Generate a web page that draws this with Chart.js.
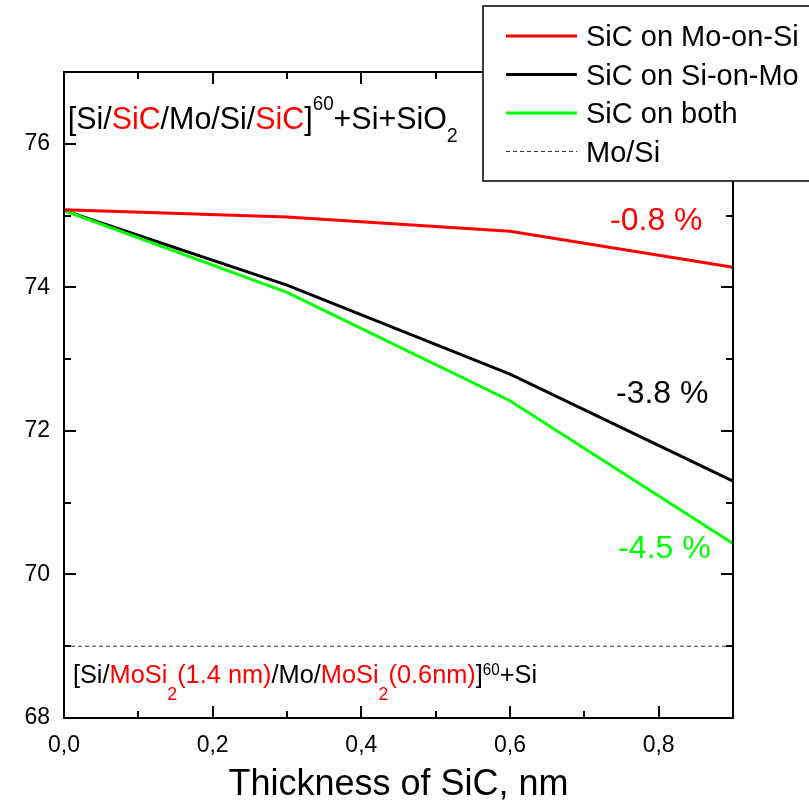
<!DOCTYPE html>
<html>
<head>
<meta charset="utf-8">
<script src="https://cdn.jsdelivr.net/npm/chart.js@4.4.1/dist/chart.umd.min.js"></script>
<style>
  html, body { margin: 0; padding: 0; background: #fff; }
  #wrap { width: 809px; height: 809px; }
</style>
</head>
<body>
<div id="wrap"><canvas id="chart" width="809" height="809"></canvas></div>
<script>
// --- data ---
const thickness = [0, 0.3, 0.6, 0.9];            // SiC thickness, nm
const sicOnMoOnSi = [75.08, 74.98, 74.78, 74.28]; // red
const sicOnSiOnMo = [75.07, 74.03, 72.79, 71.30]; // black
const sicOnBoth = [75.07, 73.93, 72.42, 70.43];   // green
const moSiRef = 69.0;                             // dashed reference
const seriesLabels = ['SiC on Mo-on-Si', 'SiC on Si-on-Mo', 'SiC on both', 'Mo/Si'];
const seriesColors = ['#ff0000', '#000000', '#00ff00', '#333333'];
const xTickLabels = ['0,0', '0,2', '0,4', '0,6', '0,8'];
const yTickLabels = ['68', '70', '72', '74', '76'];
const changeLabels = ['-0.8 %', '-3.8 %', '-4.5 %'];

const FONT = '"Liberation Sans", Arial, sans-serif';

function pts(xs, ys) {
    return xs.map((x, i) => ({ x: x, y: ys[i] }));
}

// draws text made of parts (colour / super / subscript) left to right
function drawRich(ctx, parts, x, y, size, sx) {
    ctx.save();
    ctx.translate(x, y);
    ctx.scale(sx || 1, 1);
    ctx.textAlign = 'left';
    ctx.textBaseline = 'alphabetic';
    let cx = 0;
    parts.forEach(p => {
        const s = size * (p.s || 1);
        ctx.font = s + 'px ' + FONT;
        ctx.fillStyle = p.c || '#000';
        ctx.fillText(p.t, cx, size * (p.dy || 0));
        cx += ctx.measureText(p.t).width;
    });
    ctx.restore();
}

// frame, inward ticks, legend and text notes
const decorPlugin = {
    id: 'decor',
    afterDraw(chart) {
        const ctx = chart.ctx;
        const a = chart.chartArea;
        const xs = chart.scales.x, ys = chart.scales.y;

        ctx.save();
        ctx.strokeStyle = '#000';
        ctx.lineWidth = 2;
        ctx.strokeRect(a.left, a.top, a.right - a.left, a.bottom - a.top);

        // x ticks (bottom and top, inward)
        xs.ticks.forEach(t => {
            const px = Math.round(xs.getPixelForValue(t.value));
            const major = Math.round(t.value * 10) % 2 === 0;
            const len = major ? 12 : 7;
            ctx.beginPath();
            ctx.moveTo(px, a.bottom); ctx.lineTo(px, a.bottom - len);
            ctx.moveTo(px, a.top); ctx.lineTo(px, a.top + len);
            ctx.stroke();
        });
        // y ticks (left and right, inward)
        ys.ticks.forEach(t => {
            const py = Math.round(ys.getPixelForValue(t.value));
            const major = Math.round(t.value) % 2 === 0;
            const len = major ? 12 : 7;
            ctx.beginPath();
            ctx.moveTo(a.left, py); ctx.lineTo(a.left + len, py);
            ctx.moveTo(a.right, py); ctx.lineTo(a.right - len, py);
            ctx.stroke();
        });

        // axis title
        ctx.fillStyle = '#000';
        ctx.font = '36px ' + FONT;
        ctx.textAlign = 'center';
        ctx.textBaseline = 'alphabetic';
        ctx.fillText('Thickness of SiC, nm', (a.left + a.right) / 2, 795);

        // structure notes
        const red = seriesColors[0];
        drawRich(ctx, [
            { t: '[Si/' }, { t: 'SiC', c: red }, { t: '/Mo/Si/' }, { t: 'SiC', c: red }, { t: ']' },
            { t: '60', s: 0.62, dy: -0.6 }, { t: '+Si+SiO' }, { t: '2', s: 0.65, dy: 0.4 }
        ], xs.getPixelForValue(0.005), ys.getPixelForValue(76.21), 32, 0.95);

        drawRich(ctx, [
            { t: '[Si/' }, { t: 'MoSi', c: red }, { t: '2', c: red, s: 0.7, dy: 0.65 },
            { t: '(1.4 nm)', c: red }, { t: '/Mo/' }, { t: 'MoSi', c: red },
            { t: '2', c: red, s: 0.7, dy: 0.65 }, { t: '(0.6nm)', c: red }, { t: ']' },
            { t: '60', s: 0.6, dy: -0.3 }, { t: '+Si' }
        ], xs.getPixelForValue(0.012), ys.getPixelForValue(68.49), 26, 0.975);

        // percentage changes at 0.9 nm
        const notes = [
            { y: 74.80, x: 0.859 },
            { y: 72.39, x: 0.867 },
            { y: 70.23, x: 0.870 }
        ];
        ctx.font = '32px ' + FONT;
        ctx.textAlign = 'right';
        notes.forEach((n, i) => {
            ctx.fillStyle = seriesColors[i];
            ctx.fillText(changeLabels[i], xs.getPixelForValue(n.x), ys.getPixelForValue(n.y));
        });

        // legend box
        ctx.fillStyle = '#fff';
        ctx.fillRect(483, 6, 330, 175);
        ctx.lineWidth = 1.5;
        ctx.strokeStyle = '#000';
        ctx.strokeRect(483, 6, 330, 175);
        chart.data.datasets.forEach((ds, i) => {
            const ly = 36 + i * 38.5;
            ctx.beginPath();
            ctx.strokeStyle = ds.borderColor;
            ctx.lineWidth = ds.borderWidth;
            ctx.setLineDash(ds.borderDash || []);
            ctx.moveTo(506, ly); ctx.lineTo(577, ly);
            ctx.stroke();
            ctx.setLineDash([]);
            ctx.fillStyle = '#000';
            ctx.font = '29px ' + FONT;
            ctx.textAlign = 'left';
            ctx.fillText(ds.label, 586, ly + 10);
        });
        ctx.restore();
    }
};

const chart = new Chart(document.getElementById('chart'), {
    type: 'line',
    data: {
        datasets: [
            { label: seriesLabels[0], data: pts(thickness, sicOnMoOnSi), borderColor: seriesColors[0], borderWidth: 3, order: 0 },
            { label: seriesLabels[1], data: pts(thickness, sicOnSiOnMo), borderColor: seriesColors[1], borderWidth: 3, order: 2 },
            { label: seriesLabels[2], data: pts(thickness, sicOnBoth), borderColor: seriesColors[2], borderWidth: 3, order: 1 },
            { label: seriesLabels[3], data: pts([thickness[0], thickness[thickness.length - 1]], [moSiRef, moSiRef]),
              borderColor: seriesColors[3], borderWidth: 1, borderDash: [4, 3], order: 3 }
        ]
    },
    options: {
        responsive: false,
        animation: false,
        clip: false,
        layout: { padding: { top: 72, right: 76, left: 0, bottom: 0 } },
        elements: { point: { radius: 0 }, line: { tension: 0 } },
        plugins: { legend: { display: false }, tooltip: { enabled: false } },
        scales: {
            x: {
                type: 'linear', min: 0, max: 0.9,
                afterFit: s => { s.height = 91; },
                grid: { display: false, drawTicks: false },
                border: { display: false },
                ticks: {
                    stepSize: 0.1, padding: 14, autoSkip: false, maxRotation: 0,
                    color: '#000', font: { family: FONT, size: 23 },
                    callback: v => {
                        const k = Math.round(v * 10);
                        return k % 2 === 0 ? xTickLabels[k / 2] : '';
                    }
                }
            },
            y: {
                min: 68, max: 77,
                afterFit: s => { s.width = 64; },
                grid: { display: false, drawTicks: false },
                border: { display: false },
                ticks: {
                    stepSize: 1, padding: 14, autoSkip: false,
                    color: '#000', font: { family: FONT, size: 23 },
                    callback: v => (v % 2 === 0 ? yTickLabels[(v - 68) / 2] : '')
                }
            }
        }
    },
    plugins: [decorPlugin]
});
</script>
</body>
</html>
